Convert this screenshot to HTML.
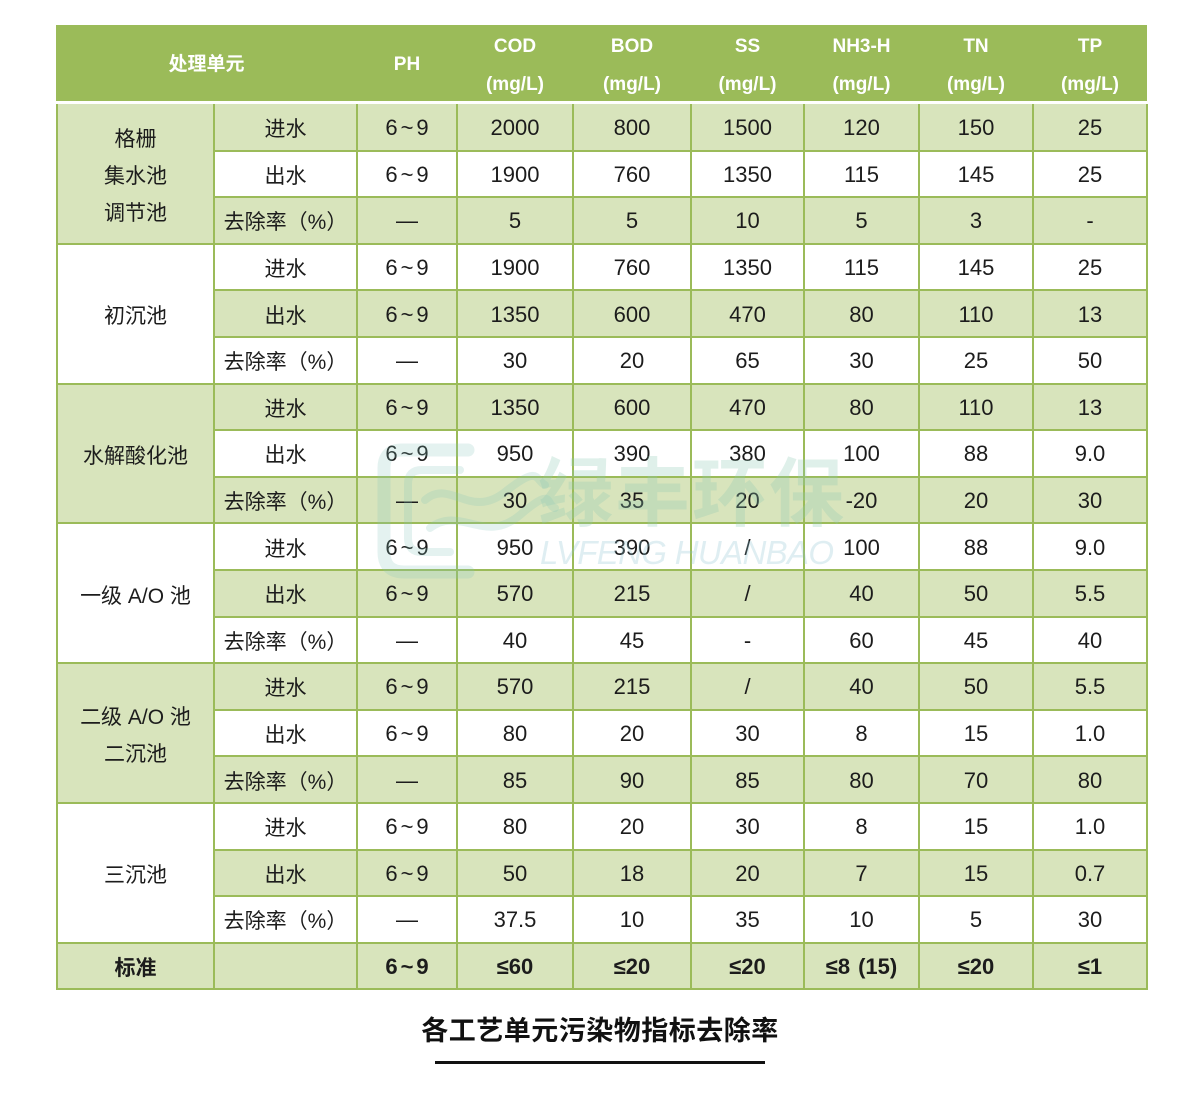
<!DOCTYPE html>
<html><head><meta charset="utf-8">
<style>
html,body{margin:0;padding:0;background:#fff;}
body{width:1200px;height:1099px;position:relative;overflow:hidden;font-family:"Liberation Sans","Noto Sans CJK SC",sans-serif;color:#1c1c1c;}
.hdr{position:absolute;left:56px;top:25px;width:1091px;height:76px;background:#9bbb59;display:flex;color:#fff;font-weight:bold;}
.hdr div{text-align:center;font-size:19px;line-height:38px;padding-top:3px;box-sizing:border-box;}
.hdr .one{line-height:70px;padding-top:5px;}
table{position:absolute;left:56px;top:104px;width:1090px;border-collapse:collapse;table-layout:fixed;}
td{border:2px solid #9bbb59;text-align:center;vertical-align:middle;font-size:22px;padding:2px 0 0 0;height:46.6px;box-sizing:border-box;white-space:nowrap;}
tr:first-child td{border-top:none;}
tr.L td{background:#d8e4bc;}
tr.W td{background:#fff;}
td.gL{background:#d8e4bc !important;line-height:37px;padding-top:6px;}
td.gW{background:#fff !important;line-height:37px;padding-top:6px;}
td.cn{font-size:21px;}
.t{letter-spacing:3px;margin-right:-3px;}
tr.std td{font-weight:bold;}
.wm{position:absolute;pointer-events:none;}
.title{position:absolute;left:0;width:1200px;top:1013px;text-align:center;font-size:27px;font-weight:bold;color:#111;line-height:36px;letter-spacing:0.5px;}
.uline{position:absolute;left:435px;top:1061px;width:330px;height:3px;background:#111;}
.gap{display:inline-block;width:8px;}
</style></head>
<body>
<div class="hdr">
  <div class="one" style="width:301px">处理单元</div>
  <div class="one" style="width:100px">PH</div>
  <div style="width:116px">COD<br>(mg/L)</div>
  <div style="width:118px">BOD<br>(mg/L)</div>
  <div style="width:113px">SS<br>(mg/L)</div>
  <div style="width:115px">NH3-H<br>(mg/L)</div>
  <div style="width:114px">TN<br>(mg/L)</div>
  <div style="width:114px">TP<br>(mg/L)</div>
</div>
<table>
<colgroup><col style="width:157px"><col style="width:143px"><col style="width:100px"><col style="width:116px"><col style="width:118px"><col style="width:113px"><col style="width:115px"><col style="width:114px"><col style="width:114px"></colgroup>
<tr class="L"><td rowspan="3" class="gL cn">格栅<br>集水池<br>调节池</td><td class="cn">进水</td><td><span class="t">6~9</span></td><td>2000</td><td>800</td><td>1500</td><td>120</td><td>150</td><td>25</td></tr>
<tr class="W"><td class="cn">出水</td><td><span class="t">6~9</span></td><td>1900</td><td>760</td><td>1350</td><td>115</td><td>145</td><td>25</td></tr>
<tr class="L"><td class="cn">去除率（%）</td><td>—</td><td>5</td><td>5</td><td>10</td><td>5</td><td>3</td><td>-</td></tr>

<tr class="W"><td rowspan="3" class="gW cn">初沉池</td><td class="cn">进水</td><td><span class="t">6~9</span></td><td>1900</td><td>760</td><td>1350</td><td>115</td><td>145</td><td>25</td></tr>
<tr class="L"><td class="cn">出水</td><td><span class="t">6~9</span></td><td>1350</td><td>600</td><td>470</td><td>80</td><td>110</td><td>13</td></tr>
<tr class="W"><td class="cn">去除率（%）</td><td>—</td><td>30</td><td>20</td><td>65</td><td>30</td><td>25</td><td>50</td></tr>

<tr class="L"><td rowspan="3" class="gL cn">水解酸化池</td><td class="cn">进水</td><td><span class="t">6~9</span></td><td>1350</td><td>600</td><td>470</td><td>80</td><td>110</td><td>13</td></tr>
<tr class="W"><td class="cn">出水</td><td><span class="t">6~9</span></td><td>950</td><td>390</td><td>380</td><td>100</td><td>88</td><td>9.0</td></tr>
<tr class="L"><td class="cn">去除率（%）</td><td>—</td><td>30</td><td>35</td><td>20</td><td>-20</td><td>20</td><td>30</td></tr>

<tr class="W"><td rowspan="3" class="gW cn">一级 A/O 池</td><td class="cn">进水</td><td><span class="t">6~9</span></td><td>950</td><td>390</td><td>/</td><td>100</td><td>88</td><td>9.0</td></tr>
<tr class="L"><td class="cn">出水</td><td><span class="t">6~9</span></td><td>570</td><td>215</td><td>/</td><td>40</td><td>50</td><td>5.5</td></tr>
<tr class="W"><td class="cn">去除率（%）</td><td>—</td><td>40</td><td>45</td><td>-</td><td>60</td><td>45</td><td>40</td></tr>

<tr class="L"><td rowspan="3" class="gL cn">二级 A/O 池<br>二沉池</td><td class="cn">进水</td><td><span class="t">6~9</span></td><td>570</td><td>215</td><td>/</td><td>40</td><td>50</td><td>5.5</td></tr>
<tr class="W"><td class="cn">出水</td><td><span class="t">6~9</span></td><td>80</td><td>20</td><td>30</td><td>8</td><td>15</td><td>1.0</td></tr>
<tr class="L"><td class="cn">去除率（%）</td><td>—</td><td>85</td><td>90</td><td>85</td><td>80</td><td>70</td><td>80</td></tr>

<tr class="W"><td rowspan="3" class="gW cn">三沉池</td><td class="cn">进水</td><td><span class="t">6~9</span></td><td>80</td><td>20</td><td>30</td><td>8</td><td>15</td><td>1.0</td></tr>
<tr class="L"><td class="cn">出水</td><td><span class="t">6~9</span></td><td>50</td><td>18</td><td>20</td><td>7</td><td>15</td><td>0.7</td></tr>
<tr class="W"><td class="cn">去除率（%）</td><td>—</td><td>37.5</td><td>10</td><td>35</td><td>10</td><td>5</td><td>30</td></tr>

<tr class="L std"><td class="cn">标准</td><td></td><td><span class="t">6~9</span></td><td>≤60</td><td>≤20</td><td>≤20</td><td>≤8<span class="gap"></span>(15)</td><td>≤20</td><td>≤1</td></tr>
</table>

<svg class="wm" style="left:0;top:0" width="1200" height="1099">
  <g fill="none" stroke="rgba(130,195,185,0.22)" stroke-linecap="round" stroke-linejoin="round">
    <path d="M468,450 H402 Q384,450 384,468 V552 Q384,572 404,572 H468" stroke-width="13"/>
    <path d="M460,470 H422 Q408,470 408,484 V538 Q408,552 422,552 H450" stroke-width="8"/>
    <path d="M425,500 C450,478 470,520 505,492 S535,480 545,485" stroke-width="8"/>
    <path d="M430,528 C460,505 485,545 520,515 S545,505 555,508" stroke-width="8"/>
  </g>
  <text x="538" y="520" font-family="Noto Sans CJK SC, sans-serif" font-weight="bold" font-size="75" fill="rgba(140,200,180,0.28)" letter-spacing="2">绿丰环保</text>
  <text x="540" y="564" font-family="Liberation Sans, sans-serif" font-style="italic" font-size="33" fill="rgba(140,195,210,0.28)" textLength="294">LVFENG HUANBAO</text>
</svg>

<div class="title">各工艺单元污染物指标去除率</div>
<div class="uline"></div>
</body></html>
